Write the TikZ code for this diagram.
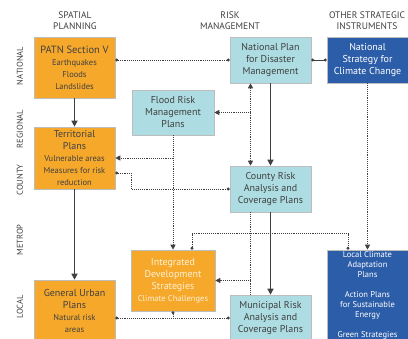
\documentclass[tikz,border=0pt]{standalone}
\usepackage{fontspec}
\setmainfont{PT Sans}
\usetikzlibrary{arrows.meta}
\definecolor{planorange}{HTML}{F6A82B}
\definecolor{risklight}{HTML}{ADDDE2}
\definecolor{stratblue}{HTML}{2C5DA9}
\definecolor{inkgray}{HTML}{404040}
\definecolor{framegray}{HTML}{BDBDBD}
\definecolor{palecream}{HTML}{FFF1D2}
\newcommand{\smalltext}[1]{{\fontsize{8.5}{10}\selectfont #1}}
\tikzset{
  box/.style={draw=framegray, line width=0.6pt, minimum width=81pt, align=center,
    inner sep=1pt, font=\fontsize{10}{12}\selectfont, text=inkgray},
  orangebox/.style={box, fill=planorange},
  lightbox/.style={box, fill=risklight},
  bluebox/.style={box, fill=stratblue, text=white},
  head/.style={font=\fontsize{9.5}{11}\selectfont, text=inkgray, align=center},
  level/.style={font=\fontsize{8.5}{10}\selectfont, text=inkgray, rotate=90},
  flow/.style={draw=inkgray, line width=1.4pt, -{Triangle[length=6pt,width=6pt]}},
  link/.style={draw=inkgray, line width=0.9pt, densely dotted},
  linkarrow/.style={link, -{Triangle[length=5pt,width=5pt]}},
  twoarrow/.style={link, {Triangle[length=5pt,width=5pt]}-{Triangle[length=5pt,width=5pt]}},
  dotends/.style={{Circle[length=3pt]}-{Circle[length=3pt]}},
  dotstart/.style={{Circle[length=3pt]}-}
}
\begin{document}
\begin{tikzpicture}[x=1pt,y=-1pt]
\useasboundingbox (0,0) rectangle (408,339);
\clip (0,0) rectangle (408,339);

\node[head] (hspatial) at (75,20.5) {SPATIAL\\PLANNING};
\node[head] (hrisk) at (230,20.5) {RISK\\MANAGEMENT};
\node[head] (hother) at (367,20.5) {OTHER STRATEGIC\\INSTRUMENTS};

\node[level] (lnational) at (20,66) {NATIONAL};
\node[level] (lregional) at (20,129) {REGIONAL};
\node[level] (lcounty) at (20,180) {COUNTY};
\node[level] (lmetrop) at (20,240) {METROP};
\node[level] (llocal) at (20,307) {LOCAL};

\node[orangebox, minimum height=61pt] (patn) at (74.5,67.5)
  {{\fontsize{10.5}{12}\selectfont PATN Section V}\\\smalltext{Earthquakes}\\\smalltext{Floods}\\\smalltext{Landslides}};
\node[orangebox, minimum height=62pt] (terr) at (74.5,158)
  {Territorial\\Plans\\\smalltext{Vulnerable areas}\\\smalltext{Measures for risk}\\\smalltext{reduction}};
\node[orangebox, minimum height=62pt] (gup) at (74.5,311)
  {General Urban\\Plans\\\smalltext{Natural risk}\\\smalltext{areas}};
\node[lightbox, minimum width=82pt, minimum height=45pt] (flood) at (173,112.5)
  {Flood Risk\\Management\\Plans};
\node[orangebox, minimum width=84pt, minimum height=61pt, text=palecream] (integ) at (173,280.5)
  {Integrated\\Development\\Strategies\\\smalltext{Climate Challenges}};
\node[lightbox, minimum height=46pt] (natplan) at (270.5,60)
  {National Plan\\for Disaster\\Management};
\node[lightbox, minimum height=46pt] (county) at (270.5,189)
  {County Risk\\Analysis and\\Coverage Plans};
\node[lightbox, minimum height=46pt] (muni) at (270.5,318)
  {Municipal Risk\\Analysis and\\Coverage Plans};
\node[bluebox, minimum height=46pt] (natstr) at (367.5,60)
  {National\\Strategy for\\Climate Change};
\node[bluebox, minimum height=90pt, font=\fontsize{8.5}{10}\selectfont] (locclim) at (367.5,295)
  {Local Climate\\Adaptation\\Plans\\[10pt]Action Plans\\for Sustainable\\Energy\\[10pt]Green Strategies};

\draw[link, dotends] (natplan.west -| patn.east) -- (natplan.west);
\draw[draw=inkgray, line width=0.8pt, dotends] (natplan.east) -- (natstr.west);
\draw[flow] (patn.south) -- (terr.north);
\draw[flow] (terr.south) -- (gup.north);
\draw[flow] (natplan.south) -- (county.north);
\draw[flow] (county.south) -- (muni.north);
\draw[twoarrow] ([xshift=-20pt]natplan.south) -- ([xshift=-20pt]county.north);
\draw[linkarrow] ([xshift=-20pt]natplan.south |- flood.east) -- (flood.east);
\draw[linkarrow] (flood.south) -- (integ.north);
\draw[linkarrow] (flood.south |- terr.east) -- (terr.east);
\draw[link, dotends] ([yshift=-15pt]terr.east) -- ++(16,0) |- (county.west);
\draw[link] ([xshift=-20pt]county.south) -- ([xshift=-20pt]muni.north);
\draw[linkarrow] ([xshift=-20pt]county.south |- integ.east) -- (integ.east);
\draw[link, dotends] ([xshift=19pt]integ.north) -- ++(0,-16) -| ([xshift=-19.5pt]locclim.north);
\draw[linkarrow] (natstr.south) -- (locclim.north);
\draw[link, dotends] (muni.west -| gup.east) -- (muni.west);
\draw[link, dotstart] (integ.south) -- (integ.south |- muni.west);
\end{tikzpicture}
\end{document}
